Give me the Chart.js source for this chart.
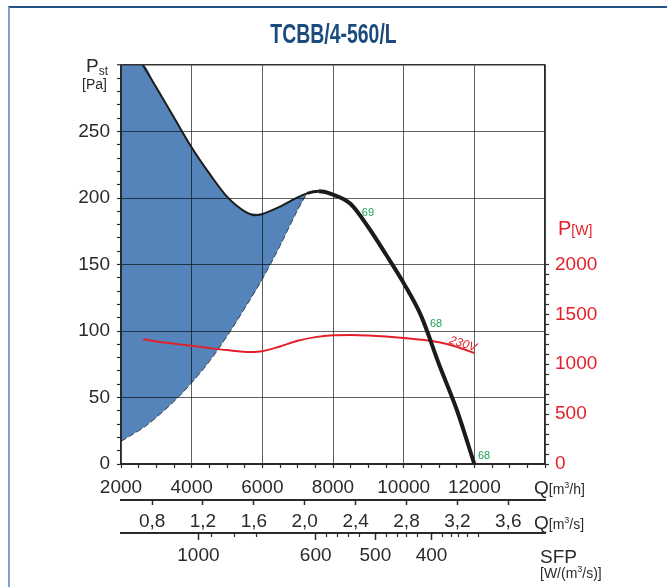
<!DOCTYPE html>
<html>
<head>
<meta charset="utf-8">
<script src="https://cdn.jsdelivr.net/npm/chart.js@4.4.1/dist/chart.umd.min.js"></script>
<style>
  html, body { margin: 0; padding: 0; background: #fff; }
  #wrap { position: relative; width: 667px; height: 587px; overflow: hidden; }
  #frame { position: absolute; left: 8px; top: 6px; right: -4px; bottom: -4px; border-top: 2px solid #245383; border-left: 2px solid #7ba5cf; }
  #fan-chart { position: absolute; left: 0; top: 0; }
</style>
</head>
<body>
<div id="wrap">
  <div id="frame"></div>
  <canvas id="fan-chart" width="667" height="587"></canvas>
</div>
<script>
const chartTitle = "TCBB/4-560/L";

// fan curve, static pressure [Pa] against airflow [m3/h]
const fanQ = [2620, 3000, 3500, 4000, 4500, 5000, 5500, 5800, 6000, 6500, 7000, 7265, 7600, 8000, 8500, 9000, 9500, 10000, 10500, 11000, 11500, 12000];
const fanP = [300, 283, 260.5, 238, 218.5, 201, 190, 187, 188, 193.5, 200.5, 203.5, 205, 202.5, 195.5, 178, 157.5, 136, 111, 75, 41, 0];

// unstable (stall) region, shaded
const stallQ = [2000, 2500, 2620, 3000, 3500, 4000, 4500, 5000, 5500, 6000, 6500, 7000, 7265];
const stallTop = [300, 300, 300, 283, 260.5, 238, 218.5, 201, 190, 188, 193.5, 200.5, 203.5];
const stallBottom = [17, 25, 27, 35, 47, 61, 77, 96, 117, 139, 164, 191, 203.5];

// input power [W], 230V
const powerQ = [2630, 3000, 3500, 4000, 4500, 5000, 5650, 6000, 6500, 7000, 7500, 8000, 8500, 9000, 9500, 10000, 10500, 11000, 11500, 12000];
const powerW = [1250, 1228, 1206, 1185, 1162, 1142, 1124, 1131, 1178, 1235, 1272, 1290, 1293, 1288, 1278, 1264, 1246, 1220, 1176, 1111];

// small numbers printed along the curve
const curveMarks = [
  { text: "69", q: 8990, p: 188.7 },
  { text: "68", q: 10915, p: 105 },
  { text: "68", q: 12274, p: 6 }
];
const voltageMark = { text: "230V", q: 11679, p: 90.2 };

// axis ticks
const qLabels = [2000, 4000, 6000, 8000, 10000, 12000];
const paLabels = [0, 50, 100, 150, 200, 250];
const wattLabels = [0, 500, 1000, 1500, 2000];
const qsLabels = [0.8, 1.2, 1.6, 2.0, 2.4, 2.8, 3.2, 3.6];
const sfpLabels = [1000, 600, 500, 400];
const sfpLabelQ = [4190, 7510, 9200, 10790];
const sfpMinorQ = [4547, 5212, 5823, 7816, 8125, 8430, 8738, 9503, 9811, 10066, 10371, 11087, 11345, 11549, 11803, 12112];

const FONT = '"Liberation Sans", Arial, sans-serif';
const RED = "#e3202a";
const INK = "#2a2a2a";
const GRID = "rgba(0,0,0,0.62)";

function steps(from, to, step) {
  const out = [];
  for (let v = from; v <= to + 1e-9; v += step) out.push(+v.toFixed(6));
  return out;
}

function pairs(xs, ys) {
  return xs.map((x, i) => ({ x: x, y: ys[i] }));
}

function drawRuns(ctx, x, y, runs, color) {
  let cx = x;
  ctx.fillStyle = color;
  ctx.textAlign = "left";
  ctx.textBaseline = "alphabetic";
  runs.forEach(r => {
    ctx.font = r.size + "px " + FONT;
    ctx.fillText(r.t, cx, y + (r.dy || 0));
    cx += ctx.measureText(r.t).width;
  });
}

const textPlugin = {
  id: "chartTexts",
  afterDraw(chart) {
    const ctx = chart.ctx;
    const { x, y, y2, xs, xsfp } = chart.scales;
    const area = chart.chartArea;
    ctx.save();

    // title, condensed bold
    ctx.save();
    ctx.translate(chart.width / 2, 43);
    ctx.scale(0.72, 1);
    ctx.font = "bold 27px " + FONT;
    ctx.fillStyle = "#1b4b7c";
    ctx.textAlign = "center";
    ctx.textBaseline = "alphabetic";
    ctx.fillText(chartTitle, 0, 0);
    ctx.restore();

    // short ticks on the SFP axis
    ctx.strokeStyle = INK;
    ctx.lineWidth = 1.2;
    sfpMinorQ.forEach(q => {
      const px = Math.round(xsfp.getPixelForValue(q)) + 0.5;
      ctx.beginPath();
      ctx.moveTo(px, xsfp.top);
      ctx.lineTo(px, xsfp.top + 4);
      ctx.stroke();
    });

    // numbers on the curve
    ctx.font = "11px " + FONT;
    ctx.fillStyle = "#1fa356";
    ctx.textAlign = "center";
    ctx.textBaseline = "middle";
    curveMarks.forEach(m => {
      ctx.fillText(m.text, x.getPixelForValue(m.q), y.getPixelForValue(m.p));
    });

    ctx.save();
    ctx.translate(x.getPixelForValue(voltageMark.q), y.getPixelForValue(voltageMark.p));
    ctx.rotate(17 * Math.PI / 180);
    ctx.font = "italic 12px " + FONT;
    ctx.fillStyle = RED;
    ctx.fillText(voltageMark.text, 0, 0);
    ctx.restore();

    // axis titles
    drawRuns(ctx, area.left - 35, area.top + 7, [
      { t: "P", size: 19 },
      { t: "st", size: 12, dy: 2.5 }
    ], INK);
    drawRuns(ctx, area.left - 39, area.top + 24, [{ t: "[Pa]", size: 14 }], INK);

    drawRuns(ctx, area.right + 13, y2.getPixelForValue(2000) - 30, [
      { t: "P", size: 20 },
      { t: "[W]", size: 14 }
    ], RED);

    drawRuns(ctx, area.right - 11, x.top + 30, [
      { t: "Q", size: 19 },
      { t: "[m", size: 14 },
      { t: "3", size: 9, dy: -6 },
      { t: "/h]", size: 14 }
    ], INK);
    drawRuns(ctx, area.right - 11, xs.top + 28.5, [
      { t: "Q", size: 19 },
      { t: "[m", size: 14 },
      { t: "3", size: 9, dy: -6 },
      { t: "/s]", size: 14 }
    ], INK);
    drawRuns(ctx, area.right - 5, xsfp.top + 30, [{ t: "SFP", size: 19 }], INK);
    drawRuns(ctx, area.right - 5, xsfp.top + 45, [
      { t: "[W/(m", size: 14 },
      { t: "3", size: 9, dy: -6 },
      { t: "/s)]", size: 14 }
    ], INK);

    ctx.restore();
  }
};

Chart.defaults.font.family = FONT;
Chart.defaults.color = INK;

new Chart(document.getElementById("fan-chart"), {
  type: "line",
  data: {
    datasets: [
      {
        label: "stall",
        data: pairs(stallQ, stallTop),
        yAxisID: "y",
        borderWidth: 0,
        pointRadius: 0,
        backgroundColor: "#5484b9",
        fill: { target: 1 },
        cubicInterpolationMode: "monotone"
      },
      {
        label: "stall edge",
        data: pairs(stallQ, stallBottom),
        yAxisID: "y",
        borderColor: "rgba(35,35,35,0.8)",
        borderWidth: 1,
        borderDash: [6, 3],
        pointRadius: 0,
        fill: false,
        cubicInterpolationMode: "monotone"
      },
      {
        label: "Pst",
        data: pairs(fanQ, fanP),
        yAxisID: "y",
        borderColor: "#1b1b1b",
        borderWidth: 2,
        pointRadius: 0,
        fill: false,
        cubicInterpolationMode: "monotone",
        segment: {
          borderWidth: c => c.p0.parsed.x >= 7600 ? 4 : (c.p0.parsed.x >= 7265 ? 3 : 2)
        }
      },
      {
        label: "P",
        data: pairs(powerQ, powerW),
        yAxisID: "y2",
        borderColor: RED,
        borderWidth: 2,
        pointRadius: 0,
        fill: false,
        cubicInterpolationMode: "monotone"
      }
    ]
  },
  options: {
    responsive: false,
    devicePixelRatio: 1,
    animation: false,
    layout: { padding: { top: 65, left: 0, right: 0, bottom: 0 } },
    plugins: {
      legend: { display: false },
      tooltip: { enabled: false },
      filler: { drawTime: "beforeDraw" }
    },
    scales: {
      x: {
        type: "linear",
        position: "bottom",
        weight: 0,
        min: 2000,
        max: 14000,
        afterBuildTicks: s => { s.ticks = steps(2000, 14000, 500).map(v => ({ value: v })); },
        afterFit: s => { s.height = 36; },
        ticks: {
          autoSkip: false,
          maxRotation: 0,
          padding: 8,
          font: { size: 19 },
          callback: v => qLabels.includes(v) ? String(v) : ""
        },
        grid: {
          color: c => c.tick && c.tick.value % 2000 === 0 ? GRID : "rgba(0,0,0,0)",
          lineWidth: 1,
          tickLength: 4,
          tickColor: INK,
          tickWidth: 1.2
        },
        border: { color: INK, width: 2 }
      },
      xs: {
        type: "linear",
        position: "bottom",
        weight: 1,
        min: 2000 / 3600,
        max: 14000 / 3600,
        afterBuildTicks: s => { s.ticks = qsLabels.map(v => ({ value: v })); },
        afterFit: s => { s.height = 33; },
        ticks: {
          autoSkip: false,
          maxRotation: 0,
          padding: 5,
          font: { size: 19 },
          callback: v => v.toFixed(1).replace(".", ",")
        },
        grid: { drawOnChartArea: false, tickLength: 5, tickColor: INK, tickWidth: 1.5 },
        border: { color: INK, width: 2 }
      },
      xsfp: {
        type: "linear",
        position: "bottom",
        weight: 2,
        min: 2000,
        max: 14000,
        afterBuildTicks: s => { s.ticks = sfpLabelQ.map(v => ({ value: v })); },
        afterFit: s => { s.height = 54; },
        ticks: {
          autoSkip: false,
          maxRotation: 0,
          padding: 4,
          font: { size: 19 },
          callback: (v, i) => String(sfpLabels[i])
        },
        grid: { drawOnChartArea: false, tickLength: 7, tickColor: INK, tickWidth: 1.5 },
        border: { color: INK, width: 2 }
      },
      y: {
        type: "linear",
        position: "left",
        min: 0,
        max: 300,
        afterBuildTicks: s => { s.ticks = steps(0, 300, 10).map(v => ({ value: v })); },
        afterFit: s => { s.width = 121; },
        ticks: {
          autoSkip: false,
          padding: 7,
          font: { size: 19 },
          callback: v => paLabels.includes(v) ? String(v) : ""
        },
        grid: {
          color: c => c.tick && c.tick.value % 50 === 0 ? (c.tick.value === 300 ? "#333" : GRID) : "rgba(0,0,0,0)",
          lineWidth: c => c.tick && c.tick.value === 300 ? 1.5 : 1,
          tickLength: 4,
          tickColor: INK,
          tickWidth: 1.2
        },
        border: { color: INK, width: 1.5 }
      },
      y2: {
        type: "linear",
        position: "right",
        min: 0,
        max: 4000,
        afterBuildTicks: s => { s.ticks = steps(0, 2000, 100).map(v => ({ value: v })); },
        afterFit: s => { s.width = 122; },
        ticks: {
          autoSkip: false,
          padding: 6,
          color: RED,
          font: { size: 19 },
          callback: v => wattLabels.includes(v) ? String(v) : ""
        },
        grid: { drawOnChartArea: false, tickLength: 4, tickColor: INK, tickWidth: 1.2 },
        border: { color: INK, width: 1.5 }
      }
    }
  },
  plugins: [textPlugin]
});
</script>
</body>
</html>
